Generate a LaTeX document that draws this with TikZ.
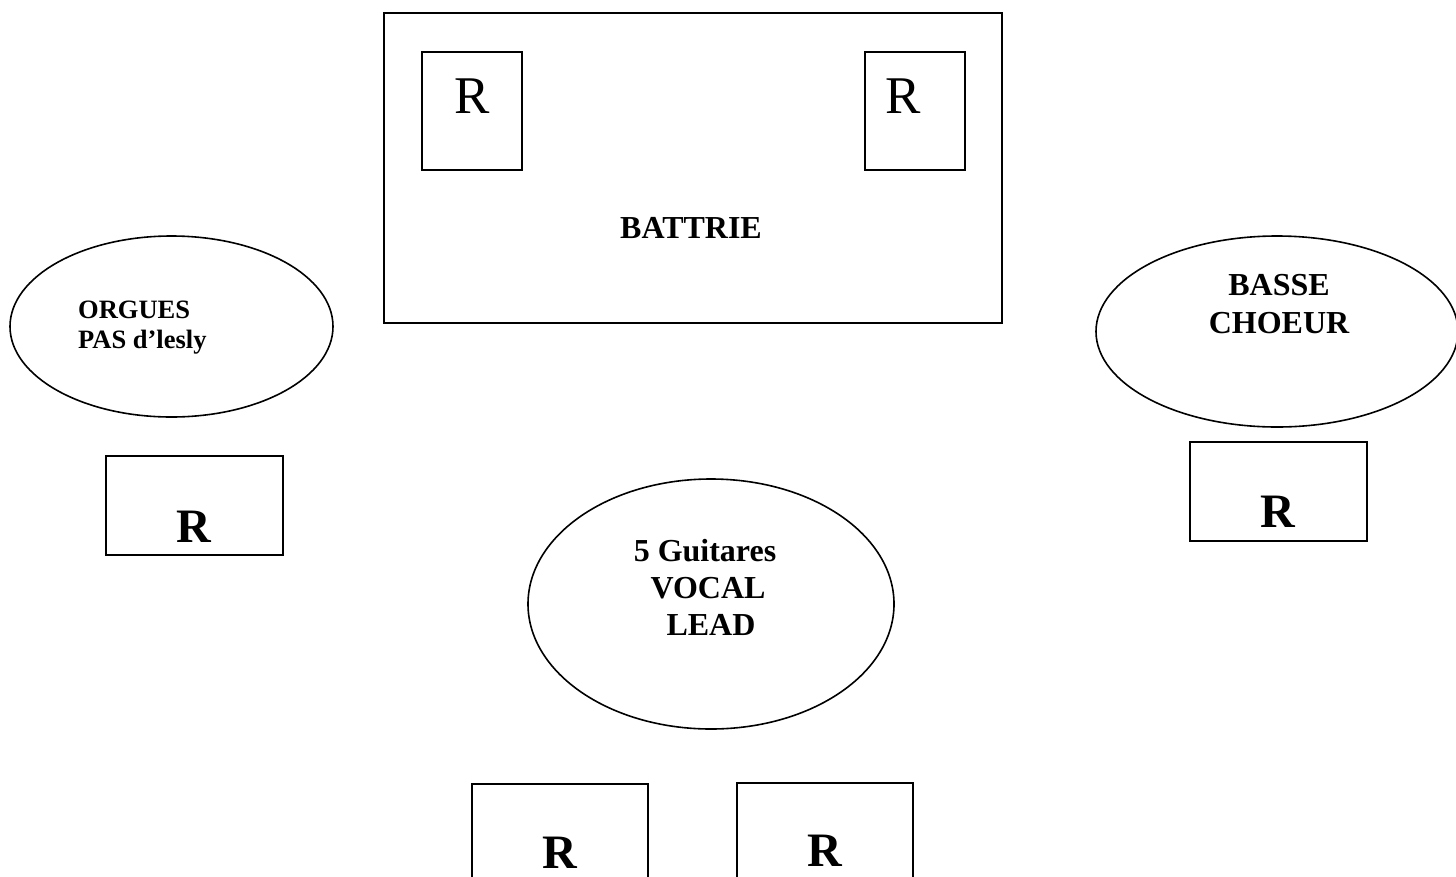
\documentclass[tikz,border=0pt]{standalone}
\usepackage{fontspec}
\setmainfont{Liberation Serif}
\usetikzlibrary{shapes.geometric}
\begin{document}
\begin{tikzpicture}[x=1pt,y=-1pt,
  box/.style={draw, rectangle, line width=1.8pt, inner sep=0pt, anchor=north west},
  oval/.style={draw, ellipse, line width=1.6pt, inner sep=0pt},
  lab/.style={font=\fontsize{32}{37}\bfseries\selectfont, anchor=base, inner sep=0pt},
  smalllab/.style={font=\fontsize{26.5}{30}\bfseries\selectfont, anchor=base west, inner sep=0pt},
  rreg/.style={font=\fontsize{53}{60}\selectfont, anchor=base, inner sep=0pt},
  rbold/.style={font=\fontsize{48}{55}\bfseries\selectfont, anchor=base, inner sep=0pt}]
\useasboundingbox (0,0) rectangle (1456,876);
\clip (0,0) rectangle (1456,876);
\fill[white] (0,0) rectangle (1456,876);

% drums
\node[box, minimum width=618pt, minimum height=310pt] (battrie) at (383,12) {};
\node[box, minimum width=100pt, minimum height=118pt] (rboxL) at (421,51) {};
\node[box, minimum width=100pt, minimum height=118pt] (rboxR) at (864,51) {};
\node[rreg] (rL) at (472,113) {R};
\node[rreg] (rR) at (903,113) {R};
\node[lab] (battrieT) at (691,238) {BATTRIE};

% organ
\node[oval, minimum width=323pt, minimum height=181pt] (orgues) at (171.5,326.5) {};
\node[smalllab] (orguesA) at (78,318) {ORGUES};
\node[smalllab] (orguesB) at (78,348) {PAS d’lesly};
\node[box, minimum width=177pt, minimum height=99pt] (rboxO) at (105,455) {};
\node[rbold] (rO) at (194,542) {R};

% bass
\node[oval, minimum width=362pt, minimum height=191pt] (basse) at (1277,331.5) {};
\node[lab] (basseA) at (1279,295) {BASSE};
\node[lab] (basseB) at (1279,333) {CHOEUR};
\node[box, minimum width=177pt, minimum height=99pt] (rboxB) at (1189,441) {};
\node[rbold] (rB) at (1278,527) {R};

% guitars
\node[oval, minimum width=366pt, minimum height=250pt] (guit) at (711,604) {};
\node[lab] (guitA) at (705,561) {5 Guitares};
\node[lab] (guitB) at (708,598) {VOCAL};
\node[lab] (guitC) at (711,635) {LEAD};
\node[box, minimum width=176pt, minimum height=150pt] (rboxG1) at (471,783) {};
\node[box, minimum width=176pt, minimum height=150pt] (rboxG2) at (736,782) {};
\node[rbold] (rG1) at (560,868) {R};
\node[rbold] (rG2) at (825,866) {R};
\end{tikzpicture}
\end{document}
